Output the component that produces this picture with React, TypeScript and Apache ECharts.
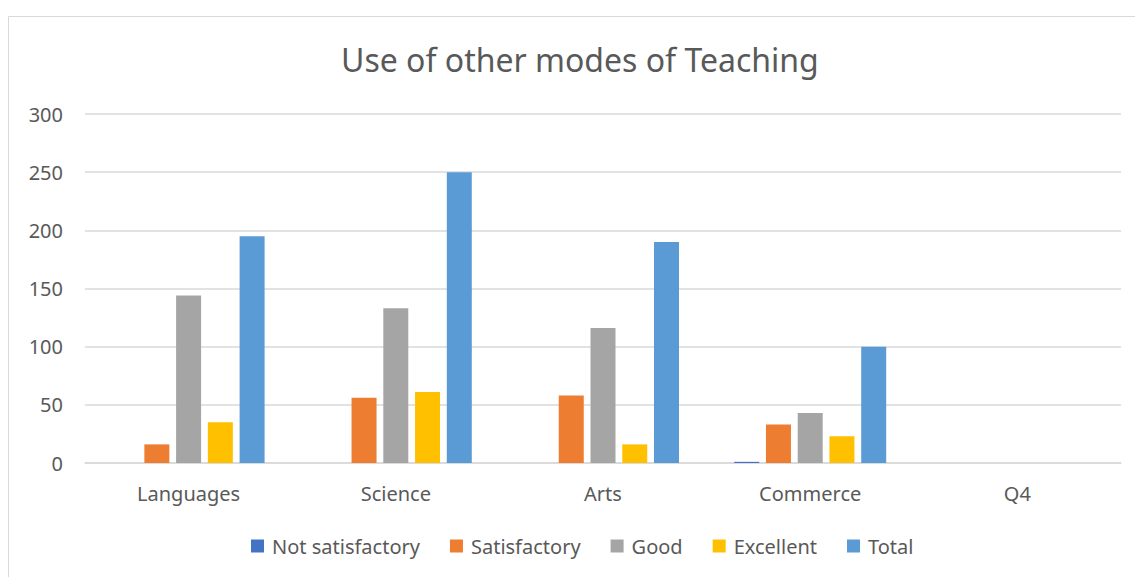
import React, { useEffect, useRef } from "react";
import * as echarts from "echarts";

const categories = ["Languages", "Science", "Arts", "Commerce", "Q4"];
const seriesNames = ["Not satisfactory", "Satisfactory", "Good", "Excellent", "Total"];
const notSatisfactory = [0, 0, 0, 1, 0];
const satisfactory = [16, 56, 58, 33, 0];
const good = [144, 133, 116, 43, 0];
const excellent = [35, 61, 16, 23, 0];
const total = [195, 250, 190, 100, 0];
const colors = ["#4472C4", "#ED7D31", "#A5A5A5", "#FFC000", "#5B9BD5"];

const FONT = "Noto Sans";
const TXT = "#595959";

export default function App() {
  const ref = useRef<HTMLDivElement>(null);
  useEffect(() => {
    if (!ref.current) return;
    const chart = echarts.init(ref.current, undefined, { renderer: "svg" });
    const data = [notSatisfactory, satisfactory, good, excellent, total];
    chart.setOption({
      animation: false,
      backgroundColor: "#ffffff",
      title: {
        text: "Use of other modes of Teaching",
        left: 336,
        top: 38,
        textStyle: { fontFamily: FONT, fontSize: 32, fontWeight: "normal", color: TXT },
      },
      graphic: [
        {
          type: "rect",
          shape: { x: 8.5, y: 16.5, width: 1140, height: 600 },
          style: { fill: "none", stroke: "#d9d9d9", lineWidth: 1 },
          silent: true,
        },
      ],
      legend: {
        bottom: 16,
        left: 246,
        itemWidth: 13,
        itemHeight: 13,
        itemGap: 30,
        icon: "rect",
        textStyle: { fontFamily: FONT, fontSize: 20, color: TXT, padding: [0, 0, 0, 3] },
        data: seriesNames,
      },
      grid: { left: 85, right: 14, top: 114, bottom: 114 },
      xAxis: {
        type: "category",
        data: categories,
        axisLine: { lineStyle: { color: "#d9d9d9", width: 1.5 } },
        axisTick: { show: false },
        axisLabel: { fontFamily: FONT, fontSize: 20, color: TXT, margin: 20 },
      },
      yAxis: {
        type: "value",
        min: 0,
        max: 300,
        interval: 50,
        axisLine: { show: false },
        axisTick: { show: false },
        splitLine: { lineStyle: { color: "#d9d9d9", width: 1.5 } },
        axisLabel: { fontFamily: FONT, fontSize: 20, color: TXT, margin: 22 },
      },
      series: seriesNames.map((name, i) => ({
        name,
        type: "bar",
        data: data[i],
        barWidth: 25,
        barGap: "27%",
        itemStyle: { color: colors[i] },
      })),
    });
    return () => chart.dispose();
  }, []);
  return (
    <div
      ref={ref}
      style={{ position: "fixed", left: 0, top: 0, width: 1135, height: 577 }}
    />
  );
}
